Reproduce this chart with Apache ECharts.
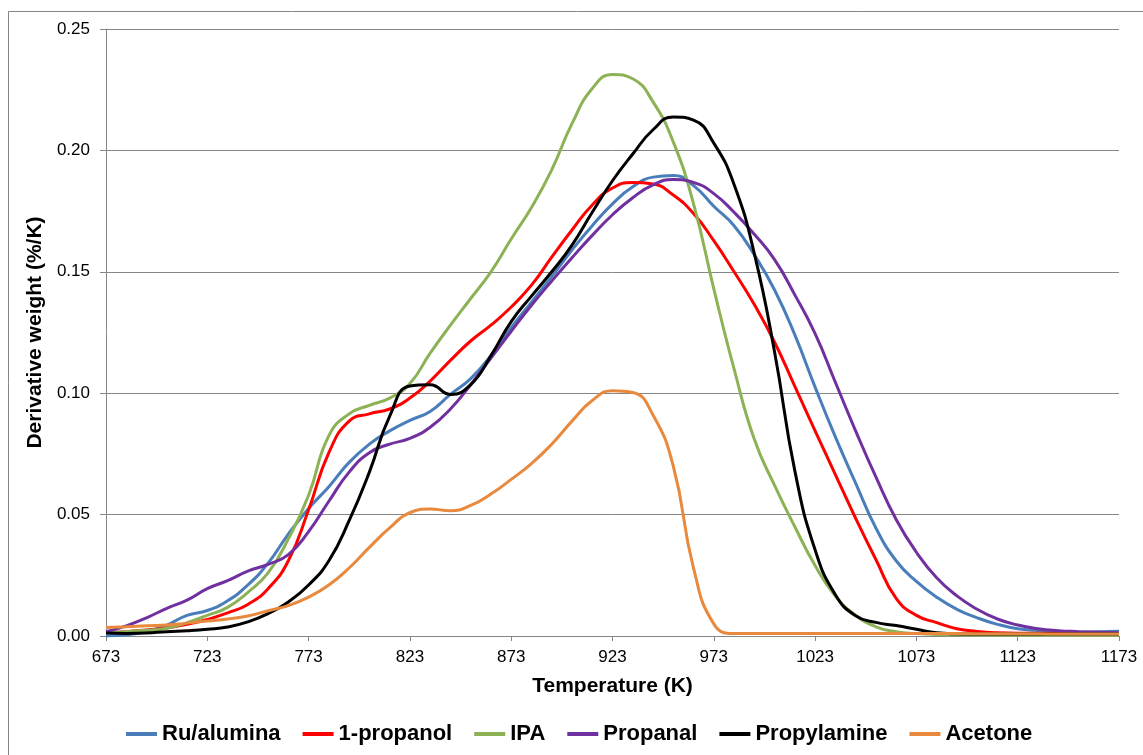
<!DOCTYPE html>
<html>
<head>
<meta charset="utf-8">
<script src="https://cdn.jsdelivr.net/npm/echarts@6/dist/echarts.min.js"></script>
<style>
  html, body { margin: 0; padding: 0; background: #fff; }
  #chart { width: 1143px; height: 755px; }
</style>
</head>
<body>
<div id="chart"></div>
<script>
// temperature (K), sampled every 10 K
const temps = [673, 683, 693, 703, 713, 723, 733, 743, 753, 763, 773, 783, 793, 803, 813, 823, 833, 843, 853, 863,
  873, 883, 893, 903, 913, 923, 933, 943, 953, 963, 973, 983, 993, 1003, 1013, 1023, 1033, 1043, 1053, 1063,
  1073, 1083, 1093, 1103, 1113, 1123, 1133, 1143, 1153, 1163, 1173];

const xTicks = [673, 723, 773, 823, 873, 923, 973, 1023, 1073, 1123, 1173];

// derivative weight (%/K)
const ruAlumina = [0.0000, 0.0005, 0.0018, 0.0045, 0.0085, 0.0105, 0.0145, 0.0210, 0.0300, 0.0420,
  0.0525, 0.0615, 0.0715, 0.0790, 0.0845, 0.0888, 0.0925, 0.0995, 0.1060, 0.1155,
  0.1270, 0.1375, 0.1480, 0.1590, 0.1690, 0.1780, 0.1850, 0.1890, 0.1897, 0.1855,
  0.1770, 0.1690, 0.1570, 0.1425, 0.1240, 0.1025, 0.0820, 0.0630, 0.0445, 0.0310,
  0.0225, 0.0160, 0.0110, 0.0075, 0.0048, 0.0030, 0.0023, 0.0018, 0.0016, 0.0018, 0.0020];

const propanol1 = [0.0014, 0.0018, 0.0025, 0.0033, 0.0048, 0.0068, 0.0095, 0.0130, 0.0195, 0.0310,
  0.0520, 0.0755, 0.0885, 0.0915, 0.0935, 0.0980, 0.1050, 0.1135, 0.1215, 0.1280,
  0.1355, 0.1445, 0.1560, 0.1672, 0.1775, 0.1845, 0.1868, 0.1862, 0.1816, 0.1740,
  0.1628, 0.1500, 0.1365, 0.1210, 0.1028, 0.0845, 0.0665, 0.0485, 0.0315, 0.0155,
  0.0085, 0.0055, 0.0030, 0.0019, 0.0013, 0.0011, 0.0011, 0.0011, 0.0011, 0.0011, 0.0011];

const ipa = [0.0015, 0.0018, 0.0024, 0.0032, 0.0055, 0.0085, 0.0118, 0.0180, 0.0260, 0.0400,
  0.0580, 0.0825, 0.0915, 0.0950, 0.0980, 0.1040, 0.1165, 0.1280, 0.1390, 0.1500,
  0.1635, 0.1765, 0.1920, 0.2110, 0.2255, 0.2313, 0.2295, 0.2200, 0.2035, 0.1780,
  0.1430, 0.1100, 0.0810, 0.0620, 0.0450, 0.0290, 0.0165, 0.0085, 0.0038, 0.0018,
  0.0010, 0.0006, 0.0005, 0.0004, 0.0004, 0.0003, 0.0003, 0.0003, 0.0003, 0.0003, 0.0003];

const propanal = [0.0018, 0.0042, 0.0075, 0.0114, 0.0148, 0.0195, 0.0228, 0.0267, 0.0295, 0.0335,
  0.0430, 0.0555, 0.0675, 0.0755, 0.0790, 0.0814, 0.0860, 0.0935, 0.1035, 0.1145,
  0.1255, 0.1362, 0.1462, 0.1558, 0.1650, 0.1735, 0.1805, 0.1858, 0.1880, 0.1868,
  0.1822, 0.1745, 0.1655, 0.1550, 0.1405, 0.1245, 0.1045, 0.0845, 0.0655, 0.0480,
  0.0345, 0.0240, 0.0165, 0.0110, 0.0070, 0.0045, 0.0030, 0.0022, 0.0018, 0.0015, 0.0012];

const propylamine = [0.0012, 0.0010, 0.0012, 0.0018, 0.0022, 0.0028, 0.0037, 0.0058, 0.0092, 0.0140,
  0.0210, 0.0310, 0.0475, 0.0675, 0.0905, 0.1030, 0.1035, 0.0995, 0.1035, 0.1155,
  0.1295, 0.1400, 0.1500, 0.1610, 0.1745, 0.1875, 0.1985, 0.2085, 0.2138, 0.2125,
  0.2030, 0.1860, 0.1575, 0.1170, 0.0680, 0.0355, 0.0170, 0.0083, 0.0056, 0.0043,
  0.0028, 0.0013, 0.0009, 0.0008, 0.0008, 0.0008, 0.0008, 0.0008, 0.0008, 0.0008, 0.0008];

const acetone = [0.0035, 0.0038, 0.0042, 0.0045, 0.0053, 0.0062, 0.0070, 0.0082, 0.0104, 0.0125,
  0.0160, 0.0210, 0.0280, 0.0365, 0.0445, 0.0508, 0.0523, 0.0516, 0.0538, 0.0585,
  0.0645, 0.0710, 0.0790, 0.0885, 0.0970, 0.1010, 0.1003, 0.0910, 0.0700, 0.0280,
  0.0050, 0.0010, 0.0010, 0.0010, 0.0010, 0.0010, 0.0010, 0.0010, 0.0010, 0.0010,
  0.0010, 0.0010, 0.0010, 0.0009, 0.0009, 0.0009, 0.0009, 0.0008, 0.0008, 0.0008, 0.0008];

const seriesDefs = [
  { name: 'Ru/alumina', data: ruAlumina, color: '#4A7EBB' },
  { name: '1-propanol', data: propanol1, color: '#FF0000' },
  { name: 'IPA', data: ipa, color: '#8DB255' },
  { name: 'Propanal', data: propanal, color: '#7030A0' },
  { name: 'Propylamine', data: propylamine, color: '#000000' },
  { name: 'Acetone', data: acetone, color: '#E8893D' }
];

const chart = echarts.init(document.getElementById('chart'));
const font = 'Liberation Sans, Arial, sans-serif';
const gray = '#868686';

const option = {
  animation: false,
  backgroundColor: '#fff',
  textStyle: { fontFamily: font },
  graphic: [{
    type: 'rect',
    shape: { x: 8.5, y: 11.5, width: 1200, height: 800 },
    style: { fill: 'none', stroke: gray, lineWidth: 1 },
    silent: true
  }],
  grid: { left: 106, right: 24, top: 29, bottom: 119 },
  legend: {
    left: 126,
    top: 723,
    padding: 0,
    itemGap: 22,
    itemWidth: 31,
    itemHeight: 4,
    icon: 'rect',
    textStyle: { fontFamily: font, fontSize: 22, fontWeight: 'bold', color: '#000' },
    data: seriesDefs.map(s => s.name)
  },
  xAxis: {
    type: 'value',
    min: 673,
    max: 1173,
    name: 'Temperature (K)',
    nameLocation: 'middle',
    nameGap: 40,
    nameTextStyle: { fontFamily: font, fontSize: 21, fontWeight: 'bold', color: '#000' },
    axisLine: { lineStyle: { color: gray, width: 1 } },
    axisTick: { show: true, length: 5, customValues: xTicks, lineStyle: { color: gray } },
    axisLabel: { customValues: xTicks, margin: 13, fontSize: 17, color: '#000', fontFamily: font, formatter: v => String(v) },
    splitLine: { show: false }
  },
  yAxis: {
    type: 'value',
    min: 0,
    max: 0.25,
    interval: 0.05,
    name: 'Derivative weight (%/K)',
    nameLocation: 'middle',
    nameGap: 51,
    nameTextStyle: { fontFamily: font, fontSize: 21, fontWeight: 'bold', color: '#000' },
    axisLine: { show: true, lineStyle: { color: gray, width: 1 } },
    axisTick: { show: true, length: 6, lineStyle: { color: gray } },
    axisLabel: { margin: 16, fontSize: 17, color: '#000', fontFamily: font, formatter: v => v.toFixed(2) },
    splitLine: { show: true, lineStyle: { color: gray, width: 1 } }
  },
  series: seriesDefs.map(s => ({
    name: s.name,
    type: 'line',
    data: temps.map((t, i) => [t, s.data[i]]),
    smooth: 0.5,
    symbol: 'none',
    lineStyle: { color: s.color, width: 3 },
    itemStyle: { color: s.color }
  }))
};

chart.setOption(option);
</script>
</body>
</html>
